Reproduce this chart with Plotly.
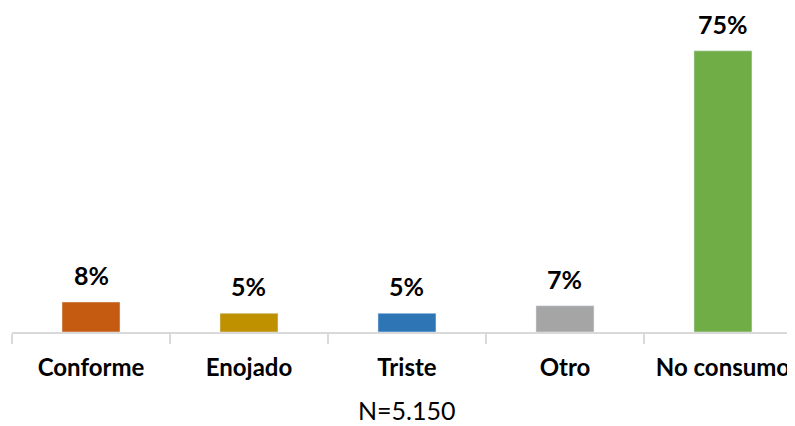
import plotly.graph_objects as go

categorias = ["Conforme", "Enojado", "Triste", "Otro", "No consumo"]
valores = [8, 5, 5, 7, 75]
etiquetas = ["8%", "5%", "5%", "7%", "75%"]
colores = ["#C55A11", "#BF9000", "#2E75B6", "#A5A5A5", "#70AD47"]
nota = "N=5.150"

fig = go.Figure()
fig.add_trace(go.Bar(x=categorias, y=valores, marker_color=colores, width=0.367,
                     hoverinfo="skip"))

# etiquetas de datos arriba de cada barra
for c, v, t in zip(categorias, valores, etiquetas):
    fig.add_annotation(x=c, y=v, text=t, showarrow=False, yanchor="bottom", yshift=11,
                       borderpad=0,
                       font=dict(family="Lato", size=25, color="#000000", weight="bold"))

fig.add_annotation(x="Triste", y=-0.245, yref="paper", text=nota, showarrow=False,
                   yanchor="middle", font=dict(family="Lato", size=25, color="#000000"))

fig.update_xaxes(range=[-0.5, 4.456], showline=True, linecolor="#D9D9D9", linewidth=2,
                 ticks="outside", tickson="boundaries", ticklen=10, tickwidth=1.5,
                 tickcolor="#D9D9D9", showgrid=False, automargin=False,
                 ticklabelstandoff=13,
                 tickfont=dict(family="Lato", size=24, color="#000000", weight="bold"))
fig.update_yaxes(range=[0, 85.1], visible=False, showgrid=False, automargin=False)

# la pagina tiene 8px de margen en el body
fig.update_layout(width=787, height=418, margin=dict(l=4, r=0, t=5, b=94),
                  plot_bgcolor="white", paper_bgcolor="white", showlegend=False,
                  bargap=0.6)

fig.write_html("out.html")
